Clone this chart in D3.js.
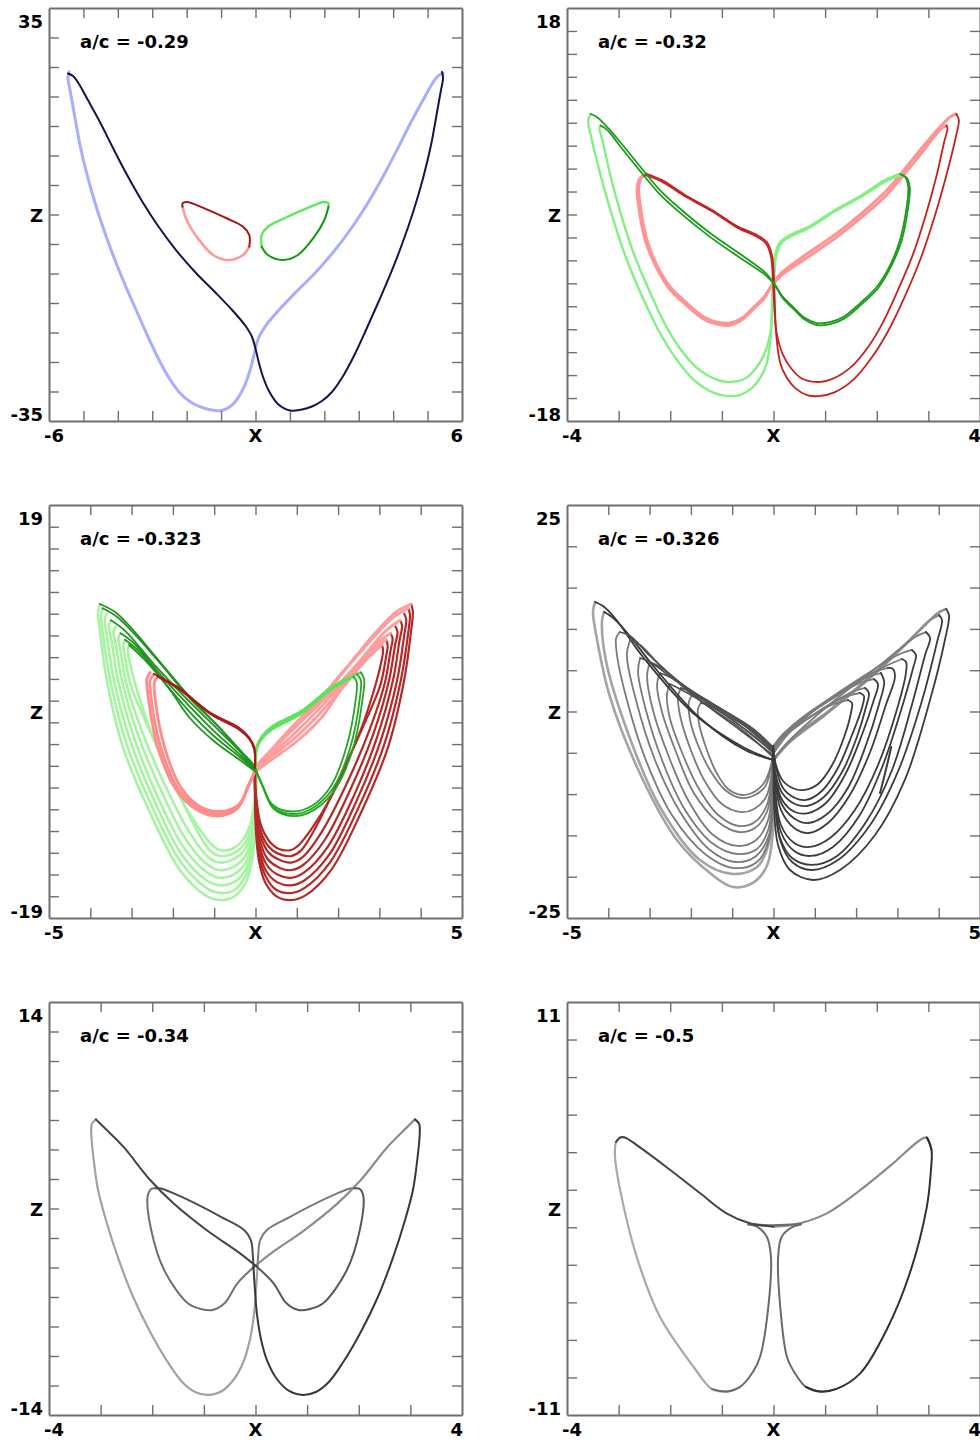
<!DOCTYPE html>
<html>
<head>
<meta charset="utf-8">
<script src="https://cdn.jsdelivr.net/npm/d3@7"></script>
<style>
  body { margin: 0; background: #fff; }
  .lab { font-family: "DejaVu Sans", sans-serif; font-weight: bold; font-size: 18px; fill: #000; }
</style>
</head>
<body>
<svg id="mainsvg" width="980" height="1440"></svg>
<script>
// ---- panel setup ----
const titles = ['a/c = -0.29', 'a/c = -0.32', 'a/c = -0.323', 'a/c = -0.326', 'a/c = -0.34', 'a/c = -0.5'];
const xDomains = [[-6, 6], [-4, 4], [-5, 5], [-5, 5], [-4, 4], [-4, 4]];
const zDomains = [[-35, 35], [-18, 18], [-19, 19], [-25, 25], [-14, 14], [-11, 11]];
const zSteps = [5, 2, 2, 5, 2, 2];

// ---- a/c = -0.29 ----
const p1Navy = [[-5.45,23.9],[-5.3,23.47],[-5.13,22.12],[-4.87,19.41],[-4.52,15.68],[-4.14,11.27],[-3.73,6.69],[-3.3,2.29],[-2.83,-1.95],[-2.31,-6.02],[-1.73,-9.92],[-1.15,-13.31],[-0.68,-16.19],[-0.31,-18.73],[-0.1,-20.76],[0.01,-22.97],[0.1,-25.17],[0.22,-27.54],[0.39,-29.92],[0.65,-32.12],[1.0,-33.22],[1.35,-33.05],[1.64,-32.54],[1.93,-31.61],[2.22,-30.08],[2.51,-27.71],[2.86,-23.98],[3.21,-19.58],[3.56,-15.0],[3.91,-10.25],[4.26,-5.0],[4.58,0.42],[4.87,6.19],[5.1,11.78],[5.27,17.2],[5.39,21.1],[5.45,23.14],[5.42,24.15]];
const p1Blue = [[5.45,23.9],[5.3,23.47],[5.13,22.12],[4.87,19.41],[4.52,15.68],[4.14,11.27],[3.73,6.69],[3.3,2.29],[2.83,-1.95],[2.31,-6.02],[1.73,-9.92],[1.15,-13.31],[0.68,-16.19],[0.31,-18.73],[0.1,-20.76],[-0.01,-22.97],[-0.1,-25.17],[-0.22,-27.54],[-0.39,-29.92],[-0.65,-32.12],[-1.0,-33.22],[-1.35,-33.05],[-1.64,-32.54],[-1.93,-31.61],[-2.22,-30.08],[-2.51,-27.71],[-2.86,-23.98],[-3.21,-19.58],[-3.56,-15.0],[-3.91,-10.25],[-4.26,-5.0],[-4.58,0.42],[-4.87,6.19],[-5.1,11.78],[-5.27,17.2],[-5.39,21.1],[-5.45,23.14],[-5.42,24.15]];
const p1RedDark = [[-2.12,1.32],[-2.12,1.9],[-2.0,2.12],[-1.42,0.88],[-0.84,-0.64],[-0.36,-2.07],[-0.18,-3.47],[-0.18,-5.46]];
const p1RedLight = [[-0.18,-5.46],[-0.36,-6.86],[-0.79,-7.71],[-1.23,-6.86],[-1.71,-3.76],[-2.0,-0.93],[-2.12,1.32]];
const p1GreenLight = [[2.12,1.32],[2.12,1.9],[2.0,2.12],[1.42,0.88],[0.84,-0.64],[0.36,-2.07],[0.18,-3.47],[0.18,-5.46]];
const p1GreenDark = [[0.18,-5.46],[0.36,-6.86],[0.79,-7.71],[1.23,-6.86],[1.71,-3.76],[2.0,-0.93],[2.12,1.32]];

// ---- a/c = -0.32 ----
const p2GreenDark = [
  [[-3.54,8.76],[-3.42,8.5],[-3.28,7.89],[-2.97,6.32],[-2.53,3.88],[-2.2,2.13],[-1.87,0.74],[-1.23,-1.62],[-0.59,-3.62],[-0.17,-5.02],[0.01,-5.98],[0.17,-7.11],[0.38,-8.07],[0.61,-9.03],[0.84,-9.46],[1.09,-9.38],[1.35,-8.94],[1.68,-7.72],[2.0,-6.32],[2.26,-4.41],[2.45,-2.23],[2.57,0.39],[2.61,2.39],[2.55,3.27],[2.45,3.53]],
  [[-3.35,7.75],[-3.27,7.55],[-3.15,7.0],[-2.97,5.95],[-2.53,3.5],[-2.2,1.75],[-1.87,0.38],[-1.23,-1.95],[-0.59,-3.95],[-0.15,-5.3],[0.03,-6.2],[0.18,-7.3],[0.39,-8.25],[0.62,-9.2],[0.85,-9.65],[1.1,-9.55],[1.36,-9.1],[1.7,-7.85],[2.02,-6.45],[2.28,-4.5],[2.48,-2.3],[2.6,0.35],[2.64,2.35],[2.58,3.2],[2.48,3.45]]
];
const p2GreenLight = [
  [[2.45,3.53],[2.16,3.0],[1.68,1.61],[1.19,0.39],[0.71,-1.01],[0.32,-1.79],[0.13,-2.4],[0.03,-3.53],[-0.01,-5.71],[-0.03,-8.33],[-0.05,-10.33],[-0.13,-12.95],[-0.26,-14.26],[-0.42,-15.13],[-0.65,-15.74],[-0.88,-15.83],[-1.19,-15.48],[-1.56,-14.35],[-1.91,-12.43],[-2.2,-10.33],[-2.53,-7.28],[-2.84,-3.97],[-3.13,-0.05],[-3.36,3.61],[-3.54,6.93],[-3.59,8.24],[-3.54,8.76]],
  [[2.48,3.45],[2.18,2.9],[1.68,1.5],[1.19,0.28],[0.71,-1.12],[0.34,-1.9],[0.15,-2.5],[0.05,-3.65],[0.01,-5.9],[-0.02,-8.3],[-0.06,-10.3],[-0.18,-12.2],[-0.34,-13.4],[-0.55,-14.3],[-0.85,-14.6],[-1.15,-14.3],[-1.5,-13.3],[-1.84,-11.5],[-2.12,-9.4],[-2.4,-6.7],[-2.7,-3.5],[-2.95,-0.05],[-3.16,3.4],[-3.31,6.4],[-3.37,7.5],[-3.35,7.75]]
];
const p2RedLight = [
  [[3.54,8.76],[3.42,8.5],[3.28,7.89],[2.97,6.32],[2.53,3.88],[2.2,2.13],[1.87,0.74],[1.23,-1.62],[0.59,-3.62],[0.17,-5.02],[-0.01,-5.98],[-0.17,-7.11],[-0.38,-8.07],[-0.61,-9.03],[-0.84,-9.46],[-1.09,-9.38],[-1.35,-8.94],[-1.68,-7.72],[-2.0,-6.32],[-2.26,-4.41],[-2.45,-2.23],[-2.57,0.39],[-2.61,2.39],[-2.55,3.27],[-2.45,3.53]],
  [[3.35,7.75],[3.27,7.55],[3.15,7.0],[2.97,5.95],[2.53,3.5],[2.2,1.75],[1.87,0.38],[1.23,-1.95],[0.59,-3.95],[0.15,-5.3],[-0.03,-6.2],[-0.18,-7.3],[-0.39,-8.25],[-0.62,-9.2],[-0.85,-9.65],[-1.1,-9.55],[-1.36,-9.1],[-1.7,-7.85],[-2.02,-6.45],[-2.28,-4.5],[-2.48,-2.3],[-2.6,0.35],[-2.64,2.35],[-2.58,3.2],[-2.48,3.45]]
];
const p2RedDark = [
  [[-2.45,3.53],[-2.16,3.0],[-1.68,1.61],[-1.19,0.39],[-0.71,-1.01],[-0.32,-1.79],[-0.13,-2.4],[-0.03,-3.53],[0.01,-5.71],[0.03,-8.33],[0.05,-10.33],[0.13,-12.95],[0.26,-14.26],[0.42,-15.13],[0.65,-15.74],[0.88,-15.83],[1.19,-15.48],[1.56,-14.35],[1.91,-12.43],[2.2,-10.33],[2.53,-7.28],[2.84,-3.97],[3.13,-0.05],[3.36,3.61],[3.54,6.93],[3.59,8.24],[3.54,8.76]],
  [[-2.48,3.45],[-2.18,2.9],[-1.68,1.5],[-1.19,0.28],[-0.71,-1.12],[-0.34,-1.9],[-0.15,-2.5],[-0.05,-3.65],[-0.01,-5.9],[0.02,-8.3],[0.06,-10.3],[0.18,-12.2],[0.34,-13.4],[0.55,-14.3],[0.85,-14.6],[1.15,-14.3],[1.5,-13.3],[1.84,-11.5],[2.12,-9.4],[2.4,-6.7],[2.7,-3.5],[2.95,-0.05],[3.16,3.4],[3.31,6.4],[3.37,7.5],[3.35,7.75]]
];

// ---- a/c = -0.323 ----
const p3GreenLobes = [
  [[0.01,-5.2],[0.01,-8.14],[-0.01,-10.9],[-0.08,-13.67],[-0.23,-15.69],[-0.5,-16.98],[-0.86,-17.35],[-1.22,-16.89],[-1.83,-14.59],[-2.55,-9.34],[-3.21,-3.27],[-3.6,2.9],[-3.77,7.5],[-3.81,9.15],[-3.77,9.89]],
  [[0.01,-5.2],[0.01,-8.0],[-0.02,-10.6],[-0.09,-13.3],[-0.25,-15.2],[-0.5,-16.4],[-0.86,-16.7],[-1.2,-16.2],[-1.8,-13.9],[-2.5,-8.8],[-3.12,-3.0],[-3.52,2.9],[-3.7,7.3],[-3.74,8.9],[-3.7,9.5]],
  [[0.01,-5.2],[0.01,-7.8],[-0.02,-10.3],[-0.1,-12.9],[-0.26,-14.7],[-0.52,-15.7],[-0.86,-16.0],[-1.2,-15.5],[-1.78,-13.2],[-2.45,-8.2],[-3.03,-2.7],[-3.43,2.9],[-3.6,7.0],[-3.65,8.5],[-3.6,9.0]],
  [[0.01,-5.2],[0.01,-7.6],[-0.02,-10.0],[-0.1,-12.4],[-0.27,-14.1],[-0.53,-15.0],[-0.86,-15.3],[-1.18,-14.8],[-1.74,-12.5],[-2.4,-7.6],[-2.94,-2.4],[-3.33,2.9],[-3.49,6.6],[-3.55,7.9],[-3.5,8.4]],
  [[0.01,-5.2],[0.01,-7.4],[-0.03,-9.7],[-0.11,-11.9],[-0.28,-13.5],[-0.54,-14.3],[-0.86,-14.6],[-1.16,-14.1],[-1.68,-11.8],[-2.33,-6.9],[-2.86,-2.0],[-3.23,2.8],[-3.38,6.1],[-3.44,7.3],[-3.39,7.8]],
  [[0.01,-5.2],[0.01,-7.2],[-0.03,-9.3],[-0.12,-11.4],[-0.3,-12.9],[-0.55,-13.6],[-0.86,-13.9],[-1.14,-13.4],[-1.6,-11.1],[-2.25,-6.3],[-2.77,-1.6],[-3.13,2.6],[-3.27,5.6],[-3.32,6.7],[-3.27,7.2]],
  [[0.01,-5.2],[0.01,-7.0],[-0.03,-9.0],[-0.12,-10.9],[-0.31,-12.4],[-0.56,-13.1],[-0.86,-13.3],[-1.1,-12.8],[-1.48,-10.5],[-2.1,-5.6],[-2.65,-1.0],[-3.02,2.4],[-3.16,5.0],[-3.2,6.1],[-3.16,6.6]],
  [[0.01,-5.2],[0.01,-6.76],[-0.04,-8.6],[-0.13,-10.44],[-0.33,-11.92],[-0.57,-12.65],[-0.86,-12.74],[-1.05,-12.28],[-1.34,-10.9],[-1.83,-7.87],[-2.19,-4.92],[-2.55,-1.7],[-2.87,1.98],[-3.04,4.46],[-3.09,5.66],[-3.06,6.12]]
];
const p3RedLobes = [
  [[-0.01,-5.2],[-0.01,-8.14],[0.01,-10.9],[0.08,-13.67],[0.23,-15.69],[0.5,-16.98],[0.86,-17.35],[1.22,-16.89],[1.83,-14.59],[2.55,-9.34],[3.21,-3.27],[3.6,2.9],[3.77,7.5],[3.81,9.15],[3.77,9.89]],
  [[-0.01,-5.2],[-0.01,-8.0],[0.02,-10.6],[0.09,-13.3],[0.25,-15.2],[0.5,-16.4],[0.86,-16.7],[1.2,-16.2],[1.8,-13.9],[2.5,-8.8],[3.12,-3.0],[3.52,2.9],[3.7,7.3],[3.74,8.9],[3.7,9.5]],
  [[-0.01,-5.2],[-0.01,-7.8],[0.02,-10.3],[0.1,-12.9],[0.26,-14.7],[0.52,-15.7],[0.86,-16.0],[1.2,-15.5],[1.78,-13.2],[2.45,-8.2],[3.03,-2.7],[3.43,2.9],[3.6,7.0],[3.65,8.5],[3.6,9.0]],
  [[-0.01,-5.2],[-0.01,-7.6],[0.02,-10.0],[0.1,-12.4],[0.27,-14.1],[0.53,-15.0],[0.86,-15.3],[1.18,-14.8],[1.74,-12.5],[2.4,-7.6],[2.94,-2.4],[3.33,2.9],[3.49,6.6],[3.55,7.9],[3.5,8.4]],
  [[-0.01,-5.2],[-0.01,-7.4],[0.03,-9.7],[0.11,-11.9],[0.28,-13.5],[0.54,-14.3],[0.86,-14.6],[1.16,-14.1],[1.68,-11.8],[2.33,-6.9],[2.86,-2.0],[3.23,2.8],[3.38,6.1],[3.44,7.3],[3.39,7.8]],
  [[-0.01,-5.2],[-0.01,-7.2],[0.03,-9.3],[0.12,-11.4],[0.3,-12.9],[0.55,-13.6],[0.86,-13.9],[1.14,-13.4],[1.6,-11.1],[2.25,-6.3],[2.77,-1.6],[3.13,2.6],[3.27,5.6],[3.32,6.7],[3.27,7.2]],
  [[-0.01,-5.2],[-0.01,-7.0],[0.03,-9.0],[0.12,-10.9],[0.31,-12.4],[0.56,-13.1],[0.86,-13.3],[1.1,-12.8],[1.48,-10.5],[2.1,-5.6],[2.65,-1.0],[3.02,2.4],[3.16,5.0],[3.2,6.1],[3.16,6.6]],
  [[-0.01,-5.2],[-0.01,-6.76],[0.04,-8.6],[0.13,-10.44],[0.33,-11.92],[0.57,-12.65],[0.86,-12.74],[1.05,-12.28],[1.34,-10.9],[1.83,-7.87],[2.19,-4.92],[2.55,-1.7],[2.87,1.98],[3.04,4.46],[3.09,5.66],[3.06,6.12]]
];
const p3GreenDiag = [
  [[-3.77,9.89],[-3.4,9.15],[-2.92,7.31],[-2.31,4.55],[-1.59,1.33],[-0.86,-1.52],[-0.33,-3.73],[-0.06,-4.83],[0.01,-5.38]],
  [[-3.7,9.5],[-3.35,8.7],[-2.9,7.0],[-2.3,4.4],[-1.59,1.2],[-0.9,-1.4],[-0.35,-3.7],[0.01,-5.35]],
  [[-3.5,8.4],[-3.15,7.4],[-2.4,4.1],[-1.6,0.9],[-0.95,-1.5],[-0.36,-3.75],[0.01,-5.38]],
  [[-3.27,7.2],[-2.95,6.3],[-2.3,3.4],[-1.59,0.45],[-0.98,-1.9],[-0.38,-3.95],[0.01,-5.42]],
  [[-3.16,6.6],[-2.8,5.47],[-2.19,2.62],[-1.59,-0.05],[-0.98,-2.35],[-0.38,-4.19],[0.01,-5.48]],
  [[-3.06,6.12],[-2.68,4.74],[-2.07,1.98],[-1.59,-0.6],[-0.98,-2.81],[-0.38,-4.46],[0.01,-5.57]]
];
const p3RedDiag = [
  [[3.77,9.89],[3.4,9.15],[2.92,7.31],[2.31,4.55],[1.59,1.33],[0.86,-1.52],[0.33,-3.73],[0.06,-4.83],[-0.01,-5.38]],
  [[3.7,9.5],[3.35,8.7],[2.9,7.0],[2.3,4.4],[1.59,1.2],[0.9,-1.4],[0.35,-3.7],[-0.01,-5.35]],
  [[3.5,8.4],[3.15,7.4],[2.4,4.1],[1.6,0.9],[0.95,-1.5],[0.36,-3.75],[-0.01,-5.38]],
  [[3.27,7.2],[2.95,6.3],[2.3,3.4],[1.59,0.45],[0.98,-1.9],[0.38,-3.95],[-0.01,-5.42]],
  [[3.16,6.6],[2.8,5.47],[2.19,2.62],[1.59,-0.05],[0.98,-2.35],[0.38,-4.19],[-0.01,-5.48]],
  [[3.06,6.12],[2.68,4.74],[2.07,1.98],[1.59,-0.6],[0.98,-2.81],[0.38,-4.46],[-0.01,-5.57]]
];
const p3GreenInnerDark = [
  [[0.01,-5.38],[0.18,-6.95],[0.42,-8.79],[0.91,-9.43],[1.39,-8.88],[1.88,-7.04],[2.29,-3.36],[2.53,1.33],[2.55,2.9],[2.46,3.45]],
  [[0.01,-5.4],[0.17,-6.85],[0.42,-8.6],[0.9,-9.2],[1.37,-8.68],[1.82,-6.9],[2.2,-3.3],[2.43,1.2],[2.45,2.7],[2.37,3.2]],
  [[0.01,-5.4],[0.2,-7.05],[0.44,-8.95],[0.92,-9.62],[1.42,-9.05],[1.93,-7.15],[2.36,-3.4],[2.6,1.4],[2.63,3.0],[2.55,3.6]]
];
const p3GreenInnerLight = [
  [[2.46,3.45],[1.88,2.25],[1.08,-0.14],[0.42,-1.43],[0.16,-2.35],[0.03,-3.27],[0.01,-5.2]],
  [[2.37,3.2],[1.85,2.05],[1.07,-0.3],[0.42,-1.6],[0.16,-2.5],[0.04,-3.4],[0.01,-5.2]],
  [[2.55,3.6],[1.9,2.4],[1.09,0.0],[0.42,-1.3],[0.16,-2.25],[0.03,-3.2],[0.01,-5.2]]
];
const p3RedInnerLight = [
  [[-0.01,-5.38],[-0.18,-6.95],[-0.42,-8.79],[-0.91,-9.43],[-1.39,-8.88],[-1.88,-7.04],[-2.29,-3.36],[-2.53,1.33],[-2.55,2.9],[-2.46,3.45]],
  [[-0.01,-5.4],[-0.17,-6.85],[-0.42,-8.6],[-0.9,-9.2],[-1.37,-8.68],[-1.82,-6.9],[-2.2,-3.3],[-2.43,1.2],[-2.45,2.7],[-2.37,3.2]],
  [[-0.01,-5.4],[-0.2,-7.05],[-0.44,-8.95],[-0.92,-9.62],[-1.42,-9.05],[-1.93,-7.15],[-2.36,-3.4],[-2.6,1.4],[-2.63,3.0],[-2.55,3.6]]
];
const p3RedInnerDark = [
  [[-2.46,3.45],[-1.88,2.25],[-1.08,-0.14],[-0.42,-1.43],[-0.16,-2.35],[-0.03,-3.27],[-0.01,-5.2]],
  [[-2.37,3.2],[-1.85,2.05],[-1.07,-0.3],[-0.42,-1.6],[-0.16,-2.5],[-0.04,-3.4],[-0.01,-5.2]]
];

// ---- a/c = -0.326 ----
const p4LeftLobes = [
  [[-0.01,-5.87],[0.01,-9.5],[-0.01,-14.35],[-0.16,-18.7],[-0.5,-20.76],[-0.98,-21.25],[-1.54,-19.55],[-2.34,-15.56],[-3.16,-8.29],[-3.96,1.76],[-4.27,8.66],[-4.37,12.05],[-4.32,13.26]],
  [[-0.01,-5.87],[-0.01,-10.71],[-0.13,-16.28],[-0.4,-18.83],[-0.98,-19.67],[-1.78,-17.98],[-2.75,-11.56],[-3.55,-2.24],[-4.06,6.23],[-4.15,11.08],[-4.1,12.05]],
  [[-0.01,-5.51],[-0.01,-10.11],[-0.11,-15.56],[-0.4,-18.22],[-0.96,-18.95],[-1.63,-17.37],[-2.46,-12.53],[-3.11,-5.63],[-3.55,1.39],[-3.79,6.84],[-3.81,8.9],[-3.72,9.62]],
  [[-0.01,-5.27],[-0.01,-9.5],[-0.11,-14.95],[-0.42,-17.49],[-0.93,-18.22],[-1.54,-16.77],[-2.26,-12.17],[-2.87,-5.87],[-3.33,1.39],[-3.55,6.84],[-3.47,8.66]],
  [[-0.01,-5.02],[-0.01,-9.5],[-0.13,-14.35],[-0.4,-16.65],[-0.88,-17.25],[-1.49,-15.92],[-2.17,-11.68],[-2.7,-5.87],[-3.09,0.18],[-3.28,4.78],[-3.23,6.48]],
  [[-0.01,-4.9],[-0.04,-8.9],[-0.13,-13.14],[-0.42,-15.56],[-0.88,-16.28],[-1.49,-14.83],[-2.07,-10.71],[-2.55,-5.27],[-2.92,0.18],[-3.06,4.3],[-2.99,5.99]],
  [[-0.01,-4.78],[-0.04,-8.29],[-0.16,-12.17],[-0.45,-14.1],[-0.84,-14.59],[-1.34,-13.38],[-1.93,-9.87],[-2.36,-4.9],[-2.7,-0.06],[-2.82,3.21],[-2.75,4.66]],
  [[-0.01,-4.66],[-0.04,-7.69],[-0.16,-11.32],[-0.45,-13.38],[-0.84,-13.86],[-1.34,-12.53],[-1.83,-9.14],[-2.24,-4.66],[-2.51,-0.79],[-2.58,2.12],[-2.51,3.33]],
  [[-0.01,-4.54],[-0.04,-7.32],[-0.18,-10.35],[-0.47,-11.8],[-0.79,-12.17],[-1.25,-11.2],[-1.68,-8.29],[-2.02,-4.42],[-2.26,-0.54],[-2.31,1.88],[-2.24,2.85]],
  [[-0.01,-4.42],[-0.06,-6.84],[-0.21,-9.14],[-0.5,-10.23],[-0.79,-10.47],[-1.17,-9.5],[-1.54,-7.08],[-1.83,-4.06],[-2.02,-1.03],[-2.05,1.15],[-1.97,2.0]],
  [[-0.01,-4.3],[-0.06,-6.48],[-0.23,-8.66],[-0.52,-9.87],[-0.76,-10.11],[-1.1,-9.38],[-1.39,-7.32],[-1.63,-4.42],[-1.8,-1.51],[-1.83,0.3],[-1.76,1.03]]
];
const p4LeftTops = [
  [[-4.32,13.26],[-4.13,12.77],[-3.84,11.32],[-3.16,6.6],[-1.95,-0.18],[-0.74,-4.3],[-0.01,-5.87]],
  [[-4.1,12.05],[-3.91,11.44],[-3.6,9.87],[-2.87,5.27],[-1.78,-0.79],[-0.69,-4.66],[-0.01,-5.87]],
  [[-3.72,9.62],[-3.47,9.14],[-2.99,6.72],[-1.9,1.76],[-0.81,-2.0],[-0.01,-5.51]],
  [[-3.47,8.66],[-3.23,8.05],[-2.75,5.63],[-1.78,1.39],[-0.81,-2.24],[-0.01,-5.27]],
  [[-3.23,6.48],[-2.99,5.99],[-2.39,3.81],[-1.42,0.42],[-0.57,-2.6],[-0.01,-5.02]],
  [[-2.99,5.99],[-2.75,5.39],[-2.02,2.6],[-1.05,-0.79],[-0.01,-4.9]],
  [[-2.75,4.66],[-2.51,4.18],[-1.78,1.88],[-0.81,-1.27],[-0.01,-4.78]],
  [[-2.51,3.33],[-2.26,2.72],[-1.54,0.67],[-0.69,-1.76],[-0.01,-4.66]],
  [[-2.24,2.85],[-1.97,2.36],[-1.3,0.42],[-0.57,-2.0],[-0.01,-4.54]],
  [[-1.97,2.0],[-1.73,1.51],[-1.05,-0.3],[-0.45,-2.24],[-0.01,-4.42]],
  [[-1.76,1.03],[-1.49,0.67],[-0.93,-0.79],[-0.38,-2.6],[-0.01,-4.3]]
];
const p4RightLobes = [
  [[0.01,-5.87],[0.01,-10.71],[0.11,-16.16],[0.4,-19.19],[0.96,-20.4],[1.61,-19.19],[2.46,-14.95],[3.18,-8.29],[3.79,1.39],[4.15,8.66],[4.25,11.68],[4.18,12.41]],
  [[0.01,-5.87],[0.04,-10.71],[0.16,-15.56],[0.45,-18.22],[0.93,-19.19],[1.56,-17.98],[2.34,-13.74],[3.01,-7.32],[3.6,1.39],[3.96,8.41],[4.08,11.08],[4.01,11.68]],
  [[0.01,-5.63],[0.04,-10.71],[0.16,-15.31],[0.45,-17.74],[0.93,-18.58],[1.54,-17.49],[2.24,-13.38],[2.87,-7.08],[3.35,0.79],[3.67,6.84],[3.79,8.9],[3.69,9.62]],
  [[-0.01,-5.15],[0.04,-10.11],[0.18,-14.59],[0.5,-16.89],[0.91,-17.49],[1.44,-16.4],[2.09,-12.53],[2.65,-6.48],[3.09,0.18],[3.38,5.27],[3.45,6.84],[3.35,7.45]],
  [[-0.01,-4.9],[0.04,-9.5],[0.18,-13.74],[0.5,-15.92],[0.88,-16.4],[1.37,-15.31],[1.97,-11.92],[2.53,-6.48],[2.97,-0.06],[3.21,4.78],[3.21,5.99],[3.11,6.36]],
  [[-0.01,-4.66],[0.04,-8.29],[0.18,-11.92],[0.5,-14.1],[0.86,-14.71],[1.32,-13.5],[1.85,-10.11],[2.34,-4.9],[2.72,0.79],[2.94,4.18],[2.89,5.15],[2.77,5.27]],
  [[-0.01,-4.54],[0.04,-8.05],[0.21,-11.32],[0.52,-13.01],[0.84,-13.5],[1.3,-12.41],[1.8,-9.26],[2.24,-4.06],[2.55,0.79],[2.68,3.57],[2.6,4.66]],
  [[-0.01,-4.42],[0.04,-7.69],[0.21,-10.71],[0.52,-12.17],[0.84,-12.29],[1.27,-11.08],[1.73,-7.69],[2.14,-2.85],[2.43,1.39],[2.53,3.33],[2.43,3.93]],
  [[-0.01,-4.3],[0.04,-7.32],[0.21,-9.87],[0.52,-11.2],[0.81,-11.44],[1.22,-10.35],[1.66,-7.32],[2.02,-3.09],[2.24,0.54],[2.31,2.24],[2.22,2.85]],
  [[-0.01,-4.18],[0.06,-6.84],[0.23,-9.26],[0.52,-10.47],[0.79,-10.71],[1.17,-9.62],[1.56,-6.84],[1.9,-2.85],[2.14,0.42],[2.19,1.88],[2.09,2.24]],
  [[-0.01,-4.18],[0.06,-6.48],[0.23,-8.41],[0.52,-9.38],[0.76,-9.5],[1.08,-8.78],[1.42,-6.48],[1.71,-3.09],[1.88,-0.06],[1.9,1.03],[1.8,1.39]]
];
const p4RightTops = [
  [[4.18,12.41],[3.98,11.92],[3.55,9.87],[2.58,5.27],[1.37,0.18],[0.4,-3.45],[0.01,-5.87]],
  [[4.01,11.68],[3.79,11.08],[3.31,8.66],[2.34,4.06],[1.25,-0.42],[0.4,-3.69],[0.01,-5.87]],
  [[3.69,9.62],[3.43,9.02],[2.58,5.63],[1.49,1.39],[0.52,-2.85],[0.01,-5.63]],
  [[3.35,7.45],[3.06,6.96],[2.22,4.42],[1.25,1.15],[0.4,-2.48],[-0.01,-5.15]],
  [[3.11,6.36],[2.82,5.75],[2.09,3.81],[1.13,0.79],[0.4,-2.0],[-0.01,-4.9]],
  [[2.77,5.27],[2.46,4.78],[1.73,2.6],[0.88,-0.06],[0.28,-2.6],[-0.01,-4.66]],
  [[2.6,4.66],[2.29,4.18],[1.56,2.0],[0.76,-0.67],[0.21,-3.09],[-0.01,-4.54]],
  [[2.43,3.93],[2.09,3.45],[1.37,1.39],[0.64,-1.03],[0.16,-3.09],[-0.01,-4.42]],
  [[2.22,2.85],[1.9,2.36],[1.25,0.54],[0.57,-1.76],[0.16,-3.21],[-0.01,-4.3]],
  [[2.09,2.24],[1.73,1.76],[1.08,-0.06],[0.45,-2.24],[-0.01,-4.18]],
  [[1.8,1.39],[1.46,0.91],[0.88,-0.67],[0.35,-2.48],[-0.01,-4.18]]
];
const p4Tail = [[2.85,-4.3],[2.75,-6.48],[2.58,-9.87]];

// ---- a/c = -0.34 ----
const p5ADiag = [[-3.09,6.04],[-2.88,5.32],[-2.56,4.19],[-2.04,1.93],[-1.59,0.35],[-0.95,-1.46],[-0.3,-3.04],[0.01,-3.9]];
const p5AInner = [[0.01,-3.9],[0.35,-5.07],[0.6,-6.43],[0.83,-6.88],[1.06,-6.81],[1.31,-6.43],[1.77,-4.17],[2.02,-1.46],[2.09,0.8],[2.02,1.32],[1.93,1.37]];
const p5ATop = [[1.93,1.37],[1.83,1.36],[1.44,0.8],[0.67,-0.56],[0.22,-1.46],[0.09,-2.14],[0.05,-3.27],[0.04,-3.95]];
const p5ALobe = [[0.04,-3.95],[0.01,-5.53],[-0.03,-7.22],[-0.11,-8.92],[-0.22,-10.27],[-0.4,-11.49],[-0.65,-12.37],[-0.92,-12.64],[-1.17,-12.44],[-1.42,-11.76],[-1.7,-10.41],[-2.04,-8.37],[-2.37,-6.0],[-2.66,-3.36],[-2.88,-0.98],[-3.05,1.25],[-3.14,3.49],[-3.18,4.98],[-3.17,5.73],[-3.09,6.04]];
const p5BDiag = [[3.09,6.04],[2.88,5.32],[2.56,4.19],[2.04,1.93],[1.59,0.35],[0.95,-1.46],[0.3,-3.04],[-0.01,-3.9]];
const p5BInner = [[-0.01,-3.9],[-0.35,-5.07],[-0.6,-6.43],[-0.83,-6.88],[-1.06,-6.81],[-1.31,-6.43],[-1.77,-4.17],[-2.02,-1.46],[-2.09,0.8],[-2.02,1.32],[-1.93,1.37]];
const p5BTop = [[-1.93,1.37],[-1.83,1.36],[-1.44,0.8],[-0.67,-0.56],[-0.22,-1.46],[-0.09,-2.14],[-0.05,-3.27],[-0.04,-3.95]];
const p5BLobe = [[-0.04,-3.95],[-0.01,-5.53],[0.03,-7.22],[0.11,-8.92],[0.22,-10.27],[0.4,-11.49],[0.65,-12.37],[0.92,-12.64],[1.17,-12.44],[1.42,-11.76],[1.7,-10.41],[2.04,-8.37],[2.37,-6.0],[2.66,-3.36],[2.88,-0.98],[3.05,1.25],[3.14,3.49],[3.18,4.98],[3.17,5.73],[3.09,6.04]];

// ---- a/c = -0.5 ----
const p6TopLeft = [[-3.05,3.54],[-2.97,3.78],[-2.88,3.78],[-2.52,3.12],[-2.0,2.05],[-1.42,0.81],[-0.91,-0.26],[-0.46,-0.79],[0.0,-0.97]];
const p6TopRight = [[0.0,-0.97],[0.51,-0.79],[1.03,-0.26],[1.68,0.98],[2.32,2.41],[2.84,3.65],[2.97,3.78],[3.06,3.12]];
const p6RightOuter = [[2.97,3.78],[3.06,3.12],[3.05,2.05],[2.97,0.09],[2.64,-3.45],[2.19,-6.47],[1.68,-8.78],[1.21,-9.62],[0.9,-9.75],[0.63,-9.51]];
const p6Stem = [
  [[1.21,-9.62],[0.9,-9.75],[0.63,-9.51],[0.4,-8.71],[0.26,-7.9],[0.13,-5.23],[0.09,-2.57],[0.16,-1.5],[0.38,-0.97],[0.53,-0.85]],
  [[0.53,-0.83],[0.0,-0.89],[-0.49,-0.83]],
  [[-0.49,-0.85],[-0.32,-0.97],[-0.13,-1.5],[-0.05,-2.57],[-0.1,-5.23],[-0.26,-7.9],[-0.4,-8.71],[-0.65,-9.51],[-0.9,-9.75],[-1.19,-9.62]]
];
const p6LeftOuter = [[-0.65,-9.51],[-0.9,-9.75],[-1.19,-9.62],[-1.55,-8.43],[-2.2,-5.77],[-2.65,-2.57],[-2.97,0.98],[-3.07,2.76],[-3.05,3.54],[-2.97,3.78],[-2.88,3.78]];

// ---- drawing ----
const W = 413, H = 413;
const colX = [49, 567];
const rowY = [8, 505, 1002];
const frameColor = '#6f6f6f';
const svg = d3.select('#mainsvg');

const drawPanel = (i, layers) => {
  const x0 = colX[i % 2];
  const y0 = rowY[Math.floor(i / 2)];
  const xScale = d3.scaleLinear().domain(xDomains[i]).range([0, W]);
  const yScale = d3.scaleLinear().domain(zDomains[i]).range([H, 0]);
  const g = svg.append('g').attr('transform', `translate(${x0}, ${y0})`);

  g.append('clipPath').attr('id', 'clip' + i)
    .append('rect').attr('width', W).attr('height', H);
  const plot = g.append('g').attr('clip-path', `url(#clip${i})`);

  const lineGen = d3.line()
    .x(d => xScale(d[0]))
    .y(d => yScale(d[1]))
    .curve(d3.curveCatmullRom.alpha(0.5));

  layers.forEach(l => {
    plot.append('g').selectAll('path')
      .data(l.lines)
      .join('path')
      .attr('d', lineGen)
      .attr('fill', 'none')
      .attr('stroke', l.color)
      .attr('stroke-width', l.width)
      .attr('stroke-linecap', 'round')
      .attr('stroke-linejoin', 'round');
  });

  // ticks on all four sides, pointing inwards
  const xt = d3.range(xDomains[i][0] + 1, xDomains[i][1], 1);
  const zt = d3.range(zDomains[i][0] + zSteps[i], zDomains[i][1] - 1e-6, zSteps[i]);
  g.append('g').attr('class', 'ax').attr('transform', `translate(0, ${H})`)
    .call(d3.axisBottom(xScale).tickValues(xt).tickSize(-10).tickSizeOuter(0).tickFormat(''));
  g.append('g').attr('class', 'ax')
    .call(d3.axisTop(xScale).tickValues(xt).tickSize(-10).tickSizeOuter(0).tickFormat(''));
  g.append('g').attr('class', 'ax')
    .call(d3.axisLeft(yScale).tickValues(zt).tickSize(-10).tickSizeOuter(0).tickFormat(''));
  g.append('g').attr('class', 'ax').attr('transform', `translate(${W}, 0)`)
    .call(d3.axisRight(yScale).tickValues(zt).tickSize(-10).tickSizeOuter(0).tickFormat(''));
  g.selectAll('.ax path').attr('stroke', frameColor).attr('stroke-width', 2);
  g.selectAll('.ax line').attr('stroke', frameColor).attr('stroke-width', 1.4);

  // labels
  const lab = (txt, x, y, anchor) => g.append('text').attr('class', 'lab')
    .attr('x', x).attr('y', y).attr('text-anchor', anchor).text(txt);
  lab(titles[i], 31, 40, 'start');
  lab(String(zDomains[i][1]), -6, 20, 'end');
  lab('Z', -6, H / 2 + 7, 'end');
  lab(String(zDomains[i][0]), -6, H, 'end');
  lab(String(xDomains[i][0]), -5, H + 21, 'start');
  lab('X', W / 2, H + 21, 'middle');
  lab(String(xDomains[i][1]), W + 1, H + 21, 'end');
};

drawPanel(0, [
  { lines: [p1Blue], color: '#a9adff', width: 3 },
  { lines: [p1Navy], color: '#13134f', width: 2 },
  { lines: [p1RedLight], color: '#ff9a9a', width: 2.6 },
  { lines: [p1RedDark], color: '#a81414', width: 2 },
  { lines: [p1GreenLight], color: '#5fe85f', width: 2.4 },
  { lines: [p1GreenDark], color: '#129612', width: 2 }
]);

drawPanel(1, [
  { lines: p2RedLight, color: '#ff9494', width: 3 },
  { lines: p2GreenLight, color: '#84f084', width: 2.4 },
  { lines: p2RedDark, color: '#c42222', width: 1.8 },
  { lines: p2GreenDark, color: '#1c9c1c', width: 1.8 }
]);

drawPanel(2, [
  { lines: p3GreenLobes, color: '#a6f3a2', width: 2.6 },
  { lines: p3RedLobes, color: '#b62828', width: 2.2 },
  { lines: p3RedDiag, color: '#ff9c9c', width: 2.8 },
  { lines: p3RedInnerLight, color: '#ff8c8c', width: 2.8 },
  { lines: p3GreenInnerLight, color: '#5de35d', width: 2.2 },
  { lines: p3GreenDiag, color: '#1e941e', width: 1.8 },
  { lines: p3RedInnerDark, color: '#a81818', width: 1.8 },
  { lines: p3GreenInnerDark, color: '#24a824', width: 1.8 }
]);

drawPanel(3, [
  { lines: p4LeftLobes.slice(0, 2), color: '#a4a4a4', width: 2.6 },
  { lines: p4LeftLobes.slice(2), color: '#7a7a7a', width: 1.8 },
  { lines: p4RightTops.slice(0, 2), color: '#8e8e8e', width: 2.4 },
  { lines: p4RightTops.slice(2), color: '#7c7c7c', width: 1.8 },
  { lines: p4LeftTops.slice(0, 2), color: '#383838', width: 1.8 },
  { lines: p4LeftTops.slice(2), color: '#505050', width: 1.6 },
  { lines: p4RightLobes, color: '#3c3c3c', width: 1.8 },
  { lines: [p4Tail], color: '#3c3c3c', width: 2 }
]);

drawPanel(4, [
  { lines: [p5ALobe], color: '#a2a2a2', width: 2.2 },
  { lines: [p5BDiag], color: '#8c8c8c', width: 2.2 },
  { lines: [p5BInner], color: '#707070', width: 2 },
  { lines: [p5ATop], color: '#7a7a7a', width: 2 },
  { lines: [p5AInner], color: '#585858', width: 2 },
  { lines: [p5BTop], color: '#4c4c4c', width: 2 },
  { lines: [p5ADiag], color: '#444444', width: 2 },
  { lines: [p5BLobe], color: '#383838', width: 2 }
]);

drawPanel(5, [
  { lines: [p6LeftOuter], color: '#a8a8a8', width: 2.2 },
  { lines: [p6TopRight], color: '#8a8a8a', width: 2.2 },
  { lines: p6Stem, color: '#6a6a6a', width: 2 },
  { lines: [p6TopLeft], color: '#444444', width: 2 },
  { lines: [p6RightOuter], color: '#303030', width: 2 }
]);
</script>
</body>
</html>
